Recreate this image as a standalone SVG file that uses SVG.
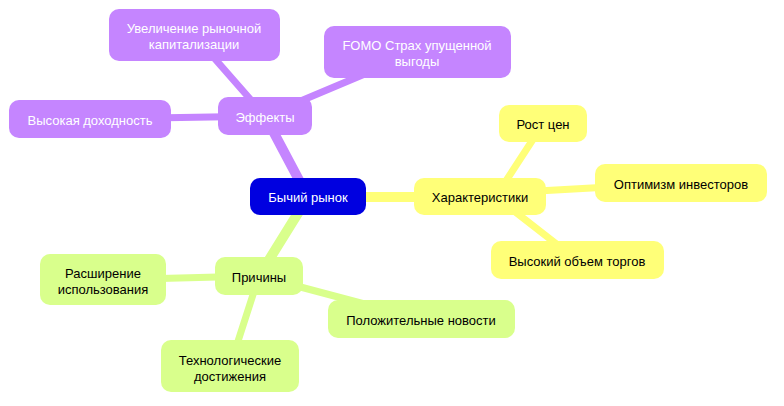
<svg xmlns="http://www.w3.org/2000/svg" width="784" height="406" viewBox="0 0 784 406">
<style>
text{font-family:"Liberation Sans",Arial,sans-serif;font-size:13px;text-anchor:middle;dominant-baseline:central}
.y rect{fill:#ffff78}.g rect{fill:#d9ff8c}.p rect{fill:#c585ff}
.p text,.r text{fill:#fff}
.ey{stroke:#ffff78}.eg{stroke:#d9ff8c}.ep{stroke:#c585ff}
#edges line{stroke-linecap:round}
</style>
<rect width="784" height="406" fill="#fff"/>
<g id="edges">
<line class="ey" x1="308" y1="197" x2="480" y2="197" stroke-width="10"/>
<line class="ey" x1="500" y1="190" x2="543" y2="124" stroke-width="7"/>
<line class="ey" x1="520" y1="192" x2="681" y2="183" stroke-width="7"/>
<line class="ey" x1="500" y1="200" x2="577" y2="260" stroke-width="7"/>
<line class="eg" x1="308" y1="197" x2="259" y2="276" stroke-width="10"/>
<line class="eg" x1="259" y1="276" x2="103" y2="280" stroke-width="7"/>
<line class="eg" x1="259" y1="276" x2="421" y2="319" stroke-width="7"/>
<line class="eg" x1="259" y1="276" x2="230" y2="366" stroke-width="7"/>
<line class="ep" x1="308" y1="197" x2="265" y2="116" stroke-width="10"/>
<line class="ep" x1="265" y1="116" x2="194" y2="35" stroke-width="7"/>
<line class="ep" x1="265" y1="116" x2="417" y2="52" stroke-width="7"/>
<line class="ep" x1="265" y1="116" x2="90" y2="119" stroke-width="7"/>
</g>
<g id="root" class="r"><rect x="250" y="178" width="116" height="37" rx="10" fill="#0000e0"/><text x="308" y="197">Бычий рынок</text></g>
<g id="char" class="y"><rect x="414" y="178" width="132" height="37" rx="10"/><text x="480" y="197">Характеристики</text></g>
<g id="rost" class="y"><rect x="499" y="105" width="88" height="37" rx="10"/><text x="543" y="124">Рост цен</text></g>
<g id="opt" class="y"><rect x="595" y="164" width="172" height="38" rx="10"/><text x="681" y="184">Оптимизм инвесторов</text></g>
<g id="vol" class="y"><rect x="491" y="241" width="173" height="38" rx="10"/><text x="577" y="261">Высокий объем торгов</text></g>
<g id="prich" class="g"><rect x="215" y="257" width="88" height="38" rx="10"/><text x="259" y="277">Причины</text></g>
<g id="rassh" class="g"><rect x="40" y="254" width="126" height="51" rx="10"/><text x="103" y="273">Расширение</text><text x="103" y="289">использования</text></g>
<g id="news" class="g"><rect x="328" y="300" width="187" height="38" rx="10"/><text x="421" y="320">Положительные новости</text></g>
<g id="tech" class="g"><rect x="161" y="340" width="138" height="52" rx="10"/><text x="230" y="360">Технологические</text><text x="230" y="376">достижения</text></g>
<g id="eff" class="p"><rect x="218" y="97" width="94" height="38" rx="10"/><text x="265" y="117">Эффекты</text></g>
<g id="cap" class="p"><rect x="109" y="9" width="171" height="52" rx="10"/><text x="194" y="28">Увеличение рыночной</text><text x="194" y="44">капитализации</text></g>
<g id="fomo" class="p"><rect x="324" y="26" width="187" height="52" rx="10"/><text x="417" y="45">FOMO Страх упущенной</text><text x="417" y="61">выгоды</text></g>
<g id="doh" class="p"><rect x="9" y="100" width="162" height="38" rx="10"/><text x="90" y="120">Высокая доходность</text></g>
</svg>
